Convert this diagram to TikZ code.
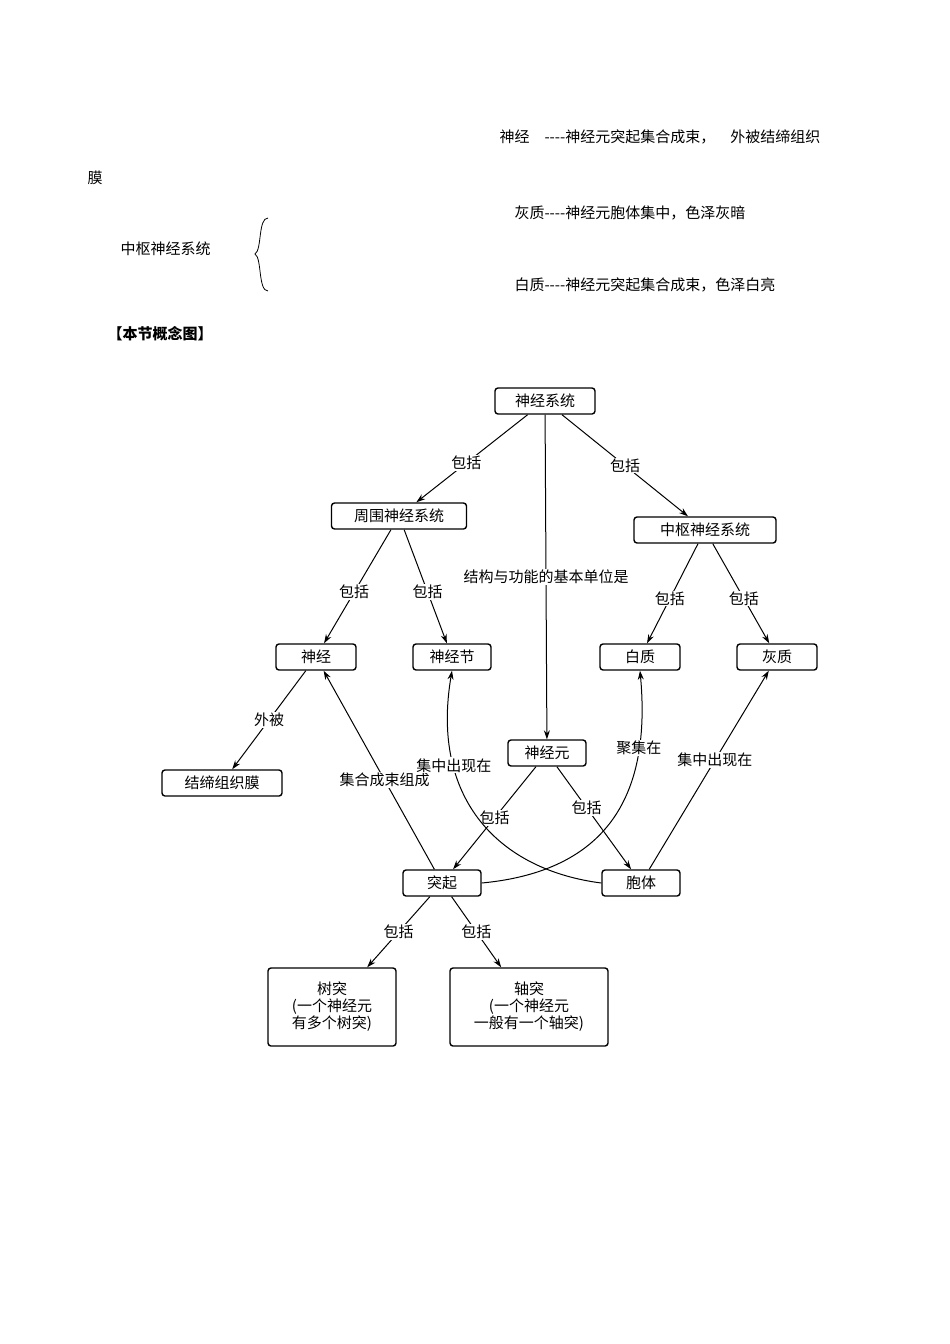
\documentclass[tikz,border=0pt]{standalone}
\usepackage{fontspec}
\setmainfont{Noto Sans CJK SC}
\usetikzlibrary{arrows.meta}
\newcommand{\dd}{{-}{-}{-}{-}}
\begin{document}
\begin{tikzpicture}[x=1pt,y=-1pt,
 bx/.style={draw,line width=1.4pt,rounded corners=3pt,minimum height=26pt,inner sep=3pt,font=\fontsize{15}{17}\selectfont},
 lb/.style={fill=white,inner sep=1pt,font=\fontsize{15}{17}\selectfont},
 ar/.style={-{Stealth[length=9pt,width=6pt]},line width=1pt},
 tx/.style={anchor=west,font=\fontsize{15}{17}\selectfont}]
\useasboundingbox (0,0) rectangle (950,1344);
\node[tx] (t1) at (496,137) {神经\quad \dd 神经元突起集合成束，\quad 外被结缔组织};
\node[tx] (t2) at (84,178) {膜};
\node[tx] (t3) at (511,213) {灰质\dd 神经元胞体集中，色泽灰暗};
\node[tx] (t4) at (117,249) {中枢神经系统};
\node[tx] (t5) at (511,285) {白质\dd 神经元突起集合成束，色泽白亮};
\node[font=\fontsize{15}{17}\selectfont\bfseries] (t6) at (160,334) {【本节概念图】};
\draw[thick] (268,218) .. controls (258,218) and (262,250) .. (255,254) .. controls (262,258) and (258,291) .. (268,291);

\node[bx,minimum width=100pt] (ns) at (545,401) {神经系统};
\node[bx,minimum width=135pt] (zw) at (399,516) {周围神经系统};
\node[bx,minimum width=142pt] (zs) at (705,530) {中枢神经系统};
\node[bx,minimum width=80pt] (sj) at (316,657) {神经};
\node[bx,minimum width=78pt] (sjj) at (452,657) {神经节};
\node[bx,minimum width=80pt] (bz) at (640,657) {白质};
\node[bx,minimum width=80pt] (hz) at (777,657) {灰质};
\node[bx,minimum width=120pt] (jd) at (222,783) {结缔组织膜};
\node[bx,minimum width=78pt] (sjy) at (547,753) {神经元};
\node[bx,minimum width=78pt] (tq) at (442,883) {突起};
\node[bx,minimum width=78pt] (bt) at (641,883) {胞体};
\node[bx,minimum width=128pt,minimum height=78pt,align=center,font=\fontsize{15}{17}\selectfont] (st) at (332,1007) {树突\\(一个神经元\\有多个树突)};
\node[bx,minimum width=158pt,minimum height=78pt,align=center,font=\fontsize{15}{17}\selectfont] (zt) at (529,1007) {轴突\\(一个神经元\\一般有一个轴突)};

\draw[ar] (ns) -- node[lb,pos=0.55]{包括} (zw);
\draw[ar] (ns) -- node[lb,pos=0.5]{包括} (zs);
\draw[ar] (ns) -- node[lb,pos=0.5]{结构与功能的基本单位是} (sjy);
\draw[ar] (zw) -- node[lb,pos=0.55]{包括} (sj);
\draw[ar] (zw) -- node[lb,pos=0.55]{包括} (sjj);
\draw[ar] (zs) -- node[lb,pos=0.55]{包括} (bz);
\draw[ar] (zs) -- node[lb,pos=0.55]{包括} (hz);
\draw[ar] (sj) -- node[lb]{外被} (jd);
\draw[ar] (tq) -- node[lb,pos=0.45]{集合成束组成} (sj);
\draw[ar] (sjy) -- node[lb]{包括} (tq);
\draw[ar] (sjy) -- node[lb,pos=0.4]{包括} (bt);
\draw[ar] (bt) -- node[lb,pos=0.55]{集中出现在} (hz);
\draw[ar] (bt.west) .. controls (500,870) and (430,800) .. node[lb,pos=0.72]{集中出现在} (sjj.south);
\draw[ar] (tq.east) .. controls (620,870) and (650,780) .. node[lb,pos=0.75]{聚集在} (bz.south);
\draw[ar] (tq) -- node[lb]{包括} (st);
\draw[ar] (tq) -- node[lb]{包括} (zt);
\end{tikzpicture}
\end{document}
